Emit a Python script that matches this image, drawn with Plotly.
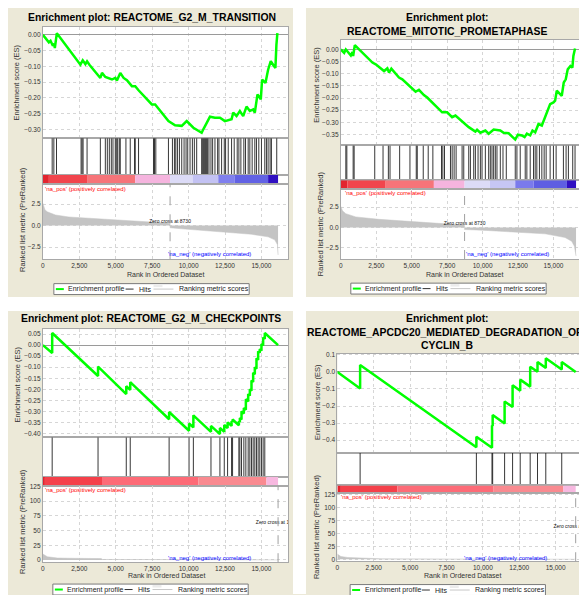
import plotly.graph_objects as go

# ======================= DATA =======================
# Panel 1 : REACTOME_G2_M_TRANSITION
p1_title = ["Enrichment plot: REACTOME_G2_M_TRANSITION"]
p1_es_rank = [0, 410, 524, 684, 775, 820, 958, 1778, 2576, 2736, 2918, 3032, 3192, 3944, 4058, 4286,
              4514, 4742, 4970, 5084, 5312, 5540, 5768, 6110, 6338, 6566, 7478, 7706, 8618, 9074, 9530,
              9872, 10328, 10898, 11012, 11468, 11810, 12152, 12494, 12950, 13064, 13292, 13520, 13748,
              13976, 14204, 14432, 14546, 14729, 14956, 15047, 15276, 15458, 15640, 15868, 15960, 16028, 16096]
p1_es = [0.000, -0.024, -0.019, -0.035, -0.028, -0.042, 0.005, -0.047, -0.095, -0.081, -0.093, -0.084,
         -0.095, -0.137, -0.121, -0.134, -0.137, -0.142, -0.137, -0.145, -0.121, -0.137, -0.144, -0.163,
         -0.163, -0.176, -0.221, -0.221, -0.274, -0.287, -0.289, -0.274, -0.295, -0.311, -0.300, -0.260,
         -0.263, -0.263, -0.274, -0.268, -0.247, -0.258, -0.242, -0.258, -0.228, -0.242, -0.237, -0.247,
         -0.189, -0.205, -0.142, -0.153, -0.111, -0.084, -0.100, -0.105, -0.032, 0.005]
p1_hits = [638, 752, 935, 2622, 2690, 2759, 3032, 3944, 4286, 4423, 4560, 4697, 4811, 4970, 5039, 5130,
           5244, 5312, 5700, 5996, 6293, 6338, 6566, 7592, 7661, 7752, 8618, 8892, 9029, 9120, 9234, 9371,
           9530, 9690, 9827, 9941, 10100, 10260, 10396, 10556, 10898, 10967, 11035, 11104, 11172, 11240,
           11309, 11400, 11537, 11651, 11810, 11993, 12084, 12266, 12449, 12540, 12722, 12950, 13132,
           13338, 13452, 13589, 13794, 13908, 14090, 14204, 14364, 14546, 14660, 14820, 15002, 15230,
           15344, 15458, 15595, 15686, 16051]
p1_metric_rank = [0, 46, 137, 296, 866, 1778, 4058, 6338, 8504, 8730, 8731, 9758, 12038, 14318, 15458,
                  15914, 16096, 16142]
p1_metric = [2.6, 2.2, 1.85, 1.6, 1.23, 1.0, 0.77, 0.58, 0.3, 0.25, -0.25, -0.4, -0.7, -1.0, -1.3,
             -1.65, -2.2, -3.4]
p1_band_edges = [0, 410, 3032, 6338, 8730, 10300, 12038, 13150, 15458, 16142]
p1_band_colors = ["#E2252F", "#F1454D", "#F67479", "#F5B4DE", "#DCDBF7", "#C3C2F3", "#8080EE",
                  "#6262E4", "#3010C2"]
p1_zero_cross = 8730

# Panel 2 : REACTOME_MITOTIC_PROMETAPHASE
p2_title = ["Enrichment plot:", "REACTOME_MITOTIC_PROMETAPHASE"]
p2_es_rank = [0, 234, 352, 703, 820, 867, 984, 2227, 2461, 2812, 3047, 3281, 3398, 3563, 4102, 4336,
              5273, 5508, 5859, 6094, 7148, 7500, 7851, 8086, 9023, 9492, 9609, 9844, 10195, 10430,
              10781, 11250, 11484, 11836, 12117, 12305, 12492, 12773, 12961, 13125, 13359, 13523, 13711,
              13945, 14180, 14531, 14766, 15000, 15117, 15234, 15586, 15727, 15867, 16008, 16195, 16336,
              16406, 16523]
p2_es = [0.0, -0.014, 0.0, -0.025, -0.011, -0.027, 0.018, -0.054, -0.061, -0.078, -0.089, -0.078,
         -0.095, -0.079, -0.116, -0.123, -0.174, -0.166, -0.188, -0.198, -0.259, -0.259, -0.279, -0.272,
         -0.320, -0.338, -0.331, -0.343, -0.334, -0.347, -0.330, -0.334, -0.343, -0.345, -0.361, -0.371,
         -0.351, -0.354, -0.361, -0.347, -0.354, -0.334, -0.341, -0.307, -0.313, -0.259, -0.225, -0.218,
         -0.211, -0.170, -0.191, -0.136, -0.123, -0.082, -0.068, -0.075, -0.027, 0.004]
p2_hits = [352, 422, 867, 937, 2391, 2977, 3352, 3469, 4148, 4875, 5320, 5391, 5813, 6164, 6492, 7102,
           7195, 7313, 7734, 7852, 7992, 8133, 8555, 8672, 9023, 9141, 9375, 9492, 9680, 9844, 9961,
           10195, 10430, 10547, 10664, 10781, 10898, 11016, 11250, 11440, 11672, 12305, 12422, 12656,
           13008, 13125, 13360, 13594, 13711, 13828, 14010, 14180, 14343, 14484, 14766, 14999, 15188,
           15703, 15891, 16054, 16360, 16523]
p2_metric_rank = [0, 117, 352, 1055, 2695, 5039, 7383, 8672, 8730, 8731, 9961, 12070, 14414, 15820,
                  16289, 16477, 16594]
p2_metric = [2.6, 2.05, 1.7, 1.3, 1.0, 0.75, 0.5, 0.3, 0.25, -0.25, -0.33, -0.5, -0.78, -1.23, -1.7,
             -2.3, -3.5]
p2_band_edges = [0, 469, 3164, 6563, 8730, 10500, 12305, 13600, 15950, 16594]
p2_band_colors = ["#E2252F", "#F1454D", "#F67479", "#F5B4DE", "#DCDBF7", "#C6C6F4", "#7A7AEC",
                  "#5E5EE2", "#3010C2"]
p2_zero_cross = 8730

# Panel 3 : REACTOME_G2_M_CHECKPOINTS
p3_title = ["Enrichment plot: REACTOME_G2_M_CHECKPOINTS"]
p3_es_rank = [0, 638, 638, 3785, 3785, 5723, 5723, 5996, 5996, 8664, 8664, 10032, 10032, 10328, 10328,
              11537, 11537, 12152, 12152, 12449, 12449, 12677, 12677, 12950, 12950, 13019, 13019, 13452,
              13452, 13520, 13520, 13634, 13634, 13794, 13794, 13931, 13931, 14090, 14090, 14204, 14204,
              14318, 14318, 14432, 14432, 14546, 14546, 14660, 14660, 14774, 14774, 14888, 14888, 15002,
              15002, 15116, 15116, 15230, 15230, 16142]
p3_es = [0.0, -0.036, 0.055, -0.140, -0.097, -0.222, -0.186, -0.203, -0.168, -0.336, -0.303, -0.388,
         -0.355, -0.373, -0.318, -0.393, -0.366, -0.403, -0.375, -0.393, -0.362, -0.376, -0.350, -0.366,
         -0.345, -0.349, -0.337, -0.363, -0.345, -0.349, -0.330, -0.337, -0.300, -0.310, -0.285, -0.293,
         -0.245, -0.255, -0.222, -0.229, -0.200, -0.207, -0.160, -0.167, -0.125, -0.132, -0.100, -0.107,
         -0.060, -0.067, -0.028, -0.035, -0.018, -0.025, 0.005, -0.002, 0.035, 0.028, 0.055, 0.0]
p3_hits = [638, 3785, 5723, 5996, 8664, 10032, 10328, 11537, 12152, 12449, 12677, 12950, 13019, 13452,
           13520, 13634, 13794, 13931, 14090, 14204, 14318, 14432, 14546, 14660, 14774, 14888, 15002,
           15116, 15230]
p3_metric_rank = [0, 150, 300, 600, 1000, 2000, 4000, 4100, 8000, 12000, 16142]
p3_metric = [10.0, 8.0, 5.5, 4.5, 3.2, 2.8, 2.3, 0.8, 0.5, 0.3, 0.0]
p3_band_edges = [0, 137, 4058, 10670, 15344, 16142]
p3_band_colors = ["#E3202B", "#F4404A", "#FD6B77", "#F98A90", "#F7B8E0"]
p3_zero_cross = 16142

# Panel 4 : REACTOME_APCDC20_MEDIATED_DEGRADATION_OF_CYCLIN_B
p4_title = ["Enrichment plot:", "REACTOME_APCDC20_MEDIATED_DEGRADATION_OF_", "CYCLIN_B"]
p4_es_rank = [0, 1564, 1564, 9555, 9555, 10628, 10628, 10674, 10674, 11495, 11495, 12043, 12043, 12568,
              12568, 13253, 13253, 13756, 13756, 14326, 14326, 15422, 15422, 16380]
p4_es = [0.0, -0.097, 0.041, -0.442, -0.380, -0.445, -0.315, -0.318, -0.253, -0.303, -0.173, -0.206,
         -0.078, -0.110, -0.045, -0.086, 0.031, 0.001, 0.058, 0.024, 0.080, 0.014, 0.058, 0.0]
p4_hits = [1564, 9555, 10628, 10674, 11495, 12043, 12568, 13253, 13756, 14326, 15422]
p4_metric_rank = [0, 120, 240, 700, 1500, 3000, 3100, 8000, 12000, 16380]
p4_metric = [10.0, 7.5, 5.5, 3.5, 2.8, 2.3, 0.8, 0.5, 0.3, 0.0]
p4_band_edges = [0, 240, 4122, 10742, 15536, 16380]
p4_band_colors = ["#E3202B", "#F4404A", "#FD6B77", "#F98A90", "#F7B8E0"]
p4_zero_cross = 16380

legend_labels = ["Enrichment profile", "Hits", "Ranking metric scores"]
pos_label = "'na_pos' (positively correlated)"
neg_label = "'na_neg' (negatively correlated)"
es_axis_title = "Enrichment score (ES)"
metric_axis_title = "Ranked list metric (PreRanked)"
x_axis_title = "Rank in Ordered Dataset"

# ======================= LAYOUT HELPERS =======================
# The page places the figure 8 px from the top-left corner of the window,
# so the figure is 8 px smaller and all window positions are shifted by OFF.
OFF = 8
WIN_W, WIN_H = 587, 595
W, H = WIN_W - OFF, WIN_H - OFF
FONT = "Liberation Sans"
BEIGE = "#ECE9D8"
LC = "#A8A8A8"
GC = "#D6D6D6"


def PX(x):
    return (x - OFF) / W


def PY(y):
    return 1 - (y - OFF) / H


def xdom(a, b):
    return [max(PX(a), 0.0), min(PX(b), 1.0)]


def ydom(top, bot):
    return [max(PY(bot), 0.0), min(PY(top), 1.0)]


def nm(prefix, n):
    return prefix if n == 1 else f"{prefix}{n}"


panels = [
    dict(title=p1_title, title_pos=[(150, 15)], es_rank=p1_es_rank, es=p1_es, hits=p1_hits,
         m_rank=p1_metric_rank, m=p1_metric, edges=p1_band_edges, colors=p1_band_colors,
         zc=p1_zero_cross, zc_y=0.45,
         x0=41, x1=287, rows=[(24, 136), (136, 173), (173, 182), (182, 258)],
         xmax=16826, es_rng=[-0.328, 0.025], es_dt=0.05, es_fmt=".2f",
         m_rng=[-3.9, 4.84], m_dt=2.5, m_fmt=".1f", closed=True,
         es_title=(15, 80), m_title=(20.5, 218), xt=(164.5, 273.3),
         pos=(41.5, 187), neg=(165, 253), leg=(52, 288)),
    dict(title=p2_title, title_pos=[(447, 15), (447, 29)], es_rank=p2_es_rank, es=p2_es, hits=p2_hits,
         m_rank=p2_metric_rank, m=p2_metric, edges=p2_band_edges, colors=p2_band_colors,
         zc=p2_zero_cross, zc_y=0.4,
         x0=340, x1=600, rows=[(36.7, 143.3), (143.3, 178.3), (178.3, 187.3), (187.3, 257.7)],
         xmax=17367, es_rng=[-0.395, 0.041], es_dt=0.05, es_fmt=".2f",
         m_rng=[-3.87, 4.72], m_dt=2.5, m_fmt=".1f", closed=False,
         es_title=(315.7, 82.5), m_title=(319, 221.7), xt=(464, 273.3),
         pos=(341.7, 191), neg=(463.3, 252.7), leg=(350, 287.5)),
    dict(title=p3_title, title_pos=[(149, 318)], es_rank=p3_es_rank, es=p3_es, hits=p3_hits,
         m_rank=p3_metric_rank, m=p3_metric, edges=p3_band_edges, colors=p3_band_colors,
         zc=p3_zero_cross, zc_y=64,
         x0=41, x1=287, rows=[(328.3, 437.3), (437.3, 476.7), (476.7, 486), (486, 563)],
         xmax=16826, es_rng=[-0.418, 0.0725], es_dt=0.05, es_fmt=".2f",
         m_rng=[-3.9, 126.2], m_dt=25, m_fmt="d", closed=True,
         es_title=(15, 384), m_title=(20.5, 522), xt=(165, 576.7),
         pos=(41.5, 490), neg=(165, 558.3), leg=(51, 590.5)),
    dict(title=p4_title, title_pos=[(447, 318), (447, 332), (447, 345)], es_rank=p4_es_rank, es=p4_es,
         hits=p4_hits, m_rank=p4_metric_rank, m=p4_metric, edges=p4_band_edges, colors=p4_band_colors,
         zc=p4_zero_cross, zc_y=63,
         x0=336.5, x1=600, rows=[(353, 452.7), (452.7, 485.7), (485.7, 493.3), (493.3, 562)],
         xmax=17158, es_rng=[-0.474, 0.1076], es_dt=0.1, es_fmt=".1f",
         m_rng=[-3.8, 128.3], m_dt=25, m_fmt="d", closed=False,
         es_title=(316.7, 402), m_title=(315.7, 527), xt=(462.5, 576.7),
         pos=(337.7, 497.3), neg=(461.7, 558.3), leg=(349.3, 591)),
]

fig = go.Figure()
layout = dict(width=W, height=H, autosize=False, margin=dict(l=0, r=0, t=0, b=0),
              paper_bgcolor=BEIGE, plot_bgcolor="white", showlegend=False,
              font=dict(family=FONT, color="#333333"))
shapes = []
annotations = []

# white gaps between the four panels (window coordinates)
for (xa, xb, ya, yb) in [(292, 305, 0, WIN_H), (0, WIN_W, 296, 310)]:
    shapes.append(dict(type="rect", xref="paper", yref="paper", x0=PX(xa), x1=PX(xb),
                       y0=PY(yb), y1=PY(ya), fillcolor="white", line=dict(width=0), layer="below"))

tick_font = dict(family=FONT, size=6.5, color="#333333")

for i, p in enumerate(panels):
    n0 = 4 * i + 1
    # ---- axes ----
    for k, (top, bot) in enumerate(p["rows"]):
        n = n0 + k
        xa = dict(domain=xdom(p["x0"], p["x1"]), range=[0, p["xmax"]], anchor=nm("y", n),
                  showline=True, mirror=True, linecolor=LC, linewidth=1, zeroline=False, ticks="",
                  tick0=0, dtick=2500, tickformat=",d", showticklabels=(k == 3), tickfont=tick_font,
                  showgrid=(k in (0, 3)), gridcolor=GC, griddash="dot", gridwidth=1, fixedrange=True)
        ya = dict(domain=ydom(top, bot), anchor=nm("x", n), showline=True, mirror=p["closed"],
                  linecolor=LC, linewidth=1, ticks="", tickfont=tick_font, fixedrange=True)
        if k == 0:
            ya.update(range=p["es_rng"], tick0=0, dtick=p["es_dt"], tickformat=p["es_fmt"],
                      showgrid=True, gridcolor=GC, griddash="dot", zeroline=True,
                      zerolinecolor="#9A9A9A", zerolinewidth=1)
        elif k in (1, 2):
            ya.update(range=[0, 1], showticklabels=False, showgrid=False, zeroline=False)
        else:
            ya.update(range=p["m_rng"], tick0=0, dtick=p["m_dt"], tickformat=p["m_fmt"],
                      showgrid=True, gridcolor=GC, griddash="dot", zeroline=False)
        layout[nm("xaxis", n)] = xa
        layout[nm("yaxis", n)] = ya

    # ---- running enrichment score ----
    fig.add_trace(go.Scatter(x=p["es_rank"], y=p["es"], mode="lines",
                             line=dict(color="#00FF00", width=2.5),
                             xaxis=nm("x", n0), yaxis=nm("y", n0), hoverinfo="skip"))
    # ---- hits ----
    hx, hy = [], []
    for h in p["hits"]:
        hx += [h, h, None]
        hy += [0, 1, None]
    fig.add_trace(go.Scatter(x=hx, y=hy, mode="lines", line=dict(color="rgba(20,20,20,0.85)", width=1),
                             xaxis=nm("x", n0 + 1), yaxis=nm("y", n0 + 1), hoverinfo="skip"))
    # ---- colour band of the ranked list ----
    e = p["edges"]
    mids = [(e[j] + e[j + 1]) / 2 for j in range(len(e) - 1)]
    wids = [e[j + 1] - e[j] for j in range(len(e) - 1)]
    fig.add_trace(go.Bar(x=mids, y=[1] * len(mids), width=wids, base=0,
                         marker=dict(color=p["colors"], line=dict(width=0)),
                         xaxis=nm("x", n0 + 2), yaxis=nm("y", n0 + 2), hoverinfo="skip"))
    # ---- ranked list metric ----
    fig.add_trace(go.Scatter(x=p["m_rank"], y=p["m"], mode="lines", fill="tozeroy",
                             fillcolor="#C4C4C4", line=dict(color="#C4C4C4", width=0.5),
                             xaxis=nm("x", n0 + 3), yaxis=nm("y", n0 + 3), hoverinfo="skip"))
    fig.add_trace(go.Scatter(x=[p["zc"]], y=[p["zc_y"]], mode="text",
                             text=[f"Zero cross at {p['zc']}"], textposition="middle center",
                             textfont=dict(family=FONT, size=5, color="#111111"), cliponaxis=True,
                             xaxis=nm("x", n0 + 3), yaxis=nm("y", n0 + 3), hoverinfo="skip"))
    shapes.append(dict(type="line", xref=nm("x", n0 + 3), yref=nm("y", n0 + 3) + " domain",
                       x0=p["zc"], x1=p["zc"], y0=0, y1=1,
                       line=dict(color="#A0A0A0", width=1, dash="dash")))

    # ---- titles & labels ----
    for txt, (tx, ty) in zip(p["title"], p["title_pos"]):
        annotations.append(dict(text=f"<b>{txt}</b>", x=PX(tx), y=PY(ty), xref="paper", yref="paper",
                                xanchor="center", yanchor="middle", showarrow=False,
                                font=dict(family=FONT, size=10.4, color="black")))
    annotations.append(dict(text=es_axis_title, x=PX(p["es_title"][0]), y=PY(p["es_title"][1]),
                            xref="paper", yref="paper", textangle=-90, showarrow=False,
                            xanchor="center", yanchor="middle",
                            font=dict(family=FONT, size=7.5, color="#333333")))
    annotations.append(dict(text=metric_axis_title, x=PX(p["m_title"][0]), y=PY(p["m_title"][1]),
                            xref="paper", yref="paper", textangle=-90, showarrow=False,
                            xanchor="center", yanchor="middle",
                            font=dict(family=FONT, size=7.5, color="#333333")))
    annotations.append(dict(text=x_axis_title, x=PX(p["xt"][0]), y=PY(p["xt"][1]),
                            xref="paper", yref="paper", showarrow=False,
                            xanchor="center", yanchor="middle",
                            font=dict(family=FONT, size=7, color="#333333")))
    annotations.append(dict(text=pos_label, x=PX(p["pos"][0]), y=PY(p["pos"][1]),
                            xref="paper", yref="paper", showarrow=False,
                            xanchor="left", yanchor="middle",
                            font=dict(family=FONT, size=6, color="#FF0000")))
    annotations.append(dict(text=neg_label, x=PX(p["neg"][0]), y=PY(p["neg"][1]),
                            xref="paper", yref="paper", showarrow=False,
                            xanchor="left", yanchor="middle",
                            font=dict(family=FONT, size=6, color="#0000FF")))

    # ---- legend box ----
    lx, ly = p["leg"]
    shapes.append(dict(type="rect", xref="paper", yref="paper", x0=PX(lx), x1=PX(lx + 196),
                       y0=PY(ly + 5.5), y1=PY(ly - 5.5), fillcolor="white",
                       line=dict(color="#7A7A7A", width=1)))
    shapes.append(dict(type="line", xref="paper", yref="paper", x0=PX(lx + 2), x1=PX(lx + 10),
                       y0=PY(ly), y1=PY(ly), line=dict(color="#00FF00", width=2)))
    shapes.append(dict(type="line", xref="paper", yref="paper", x0=PX(lx + 72), x1=PX(lx + 80),
                       y0=PY(ly), y1=PY(ly), line=dict(color="#333333", width=1)))
    shapes.append(dict(type="rect", xref="paper", yref="paper", x0=PX(lx + 100), x1=PX(lx + 109),
                       y0=PY(ly - 2), y1=PY(ly - 4.5), fillcolor="#EBEBEB", line=dict(width=0)))
    shapes.append(dict(type="line", xref="paper", yref="paper", x0=PX(lx + 100), x1=PX(lx + 120),
                       y0=PY(ly), y1=PY(ly), line=dict(color="#C8C8C8", width=1)))
    for lab, off in zip(legend_labels, [12.5, 83, 123.5]):
        annotations.append(dict(text=lab, x=PX(lx + off), y=PY(ly), xref="paper", yref="paper",
                                showarrow=False, xanchor="left", yanchor="middle",
                                font=dict(family=FONT, size=7, color="#222222")))

layout["shapes"] = shapes
layout["annotations"] = annotations
fig.update_layout(**layout)
fig.write_html("out.html")
